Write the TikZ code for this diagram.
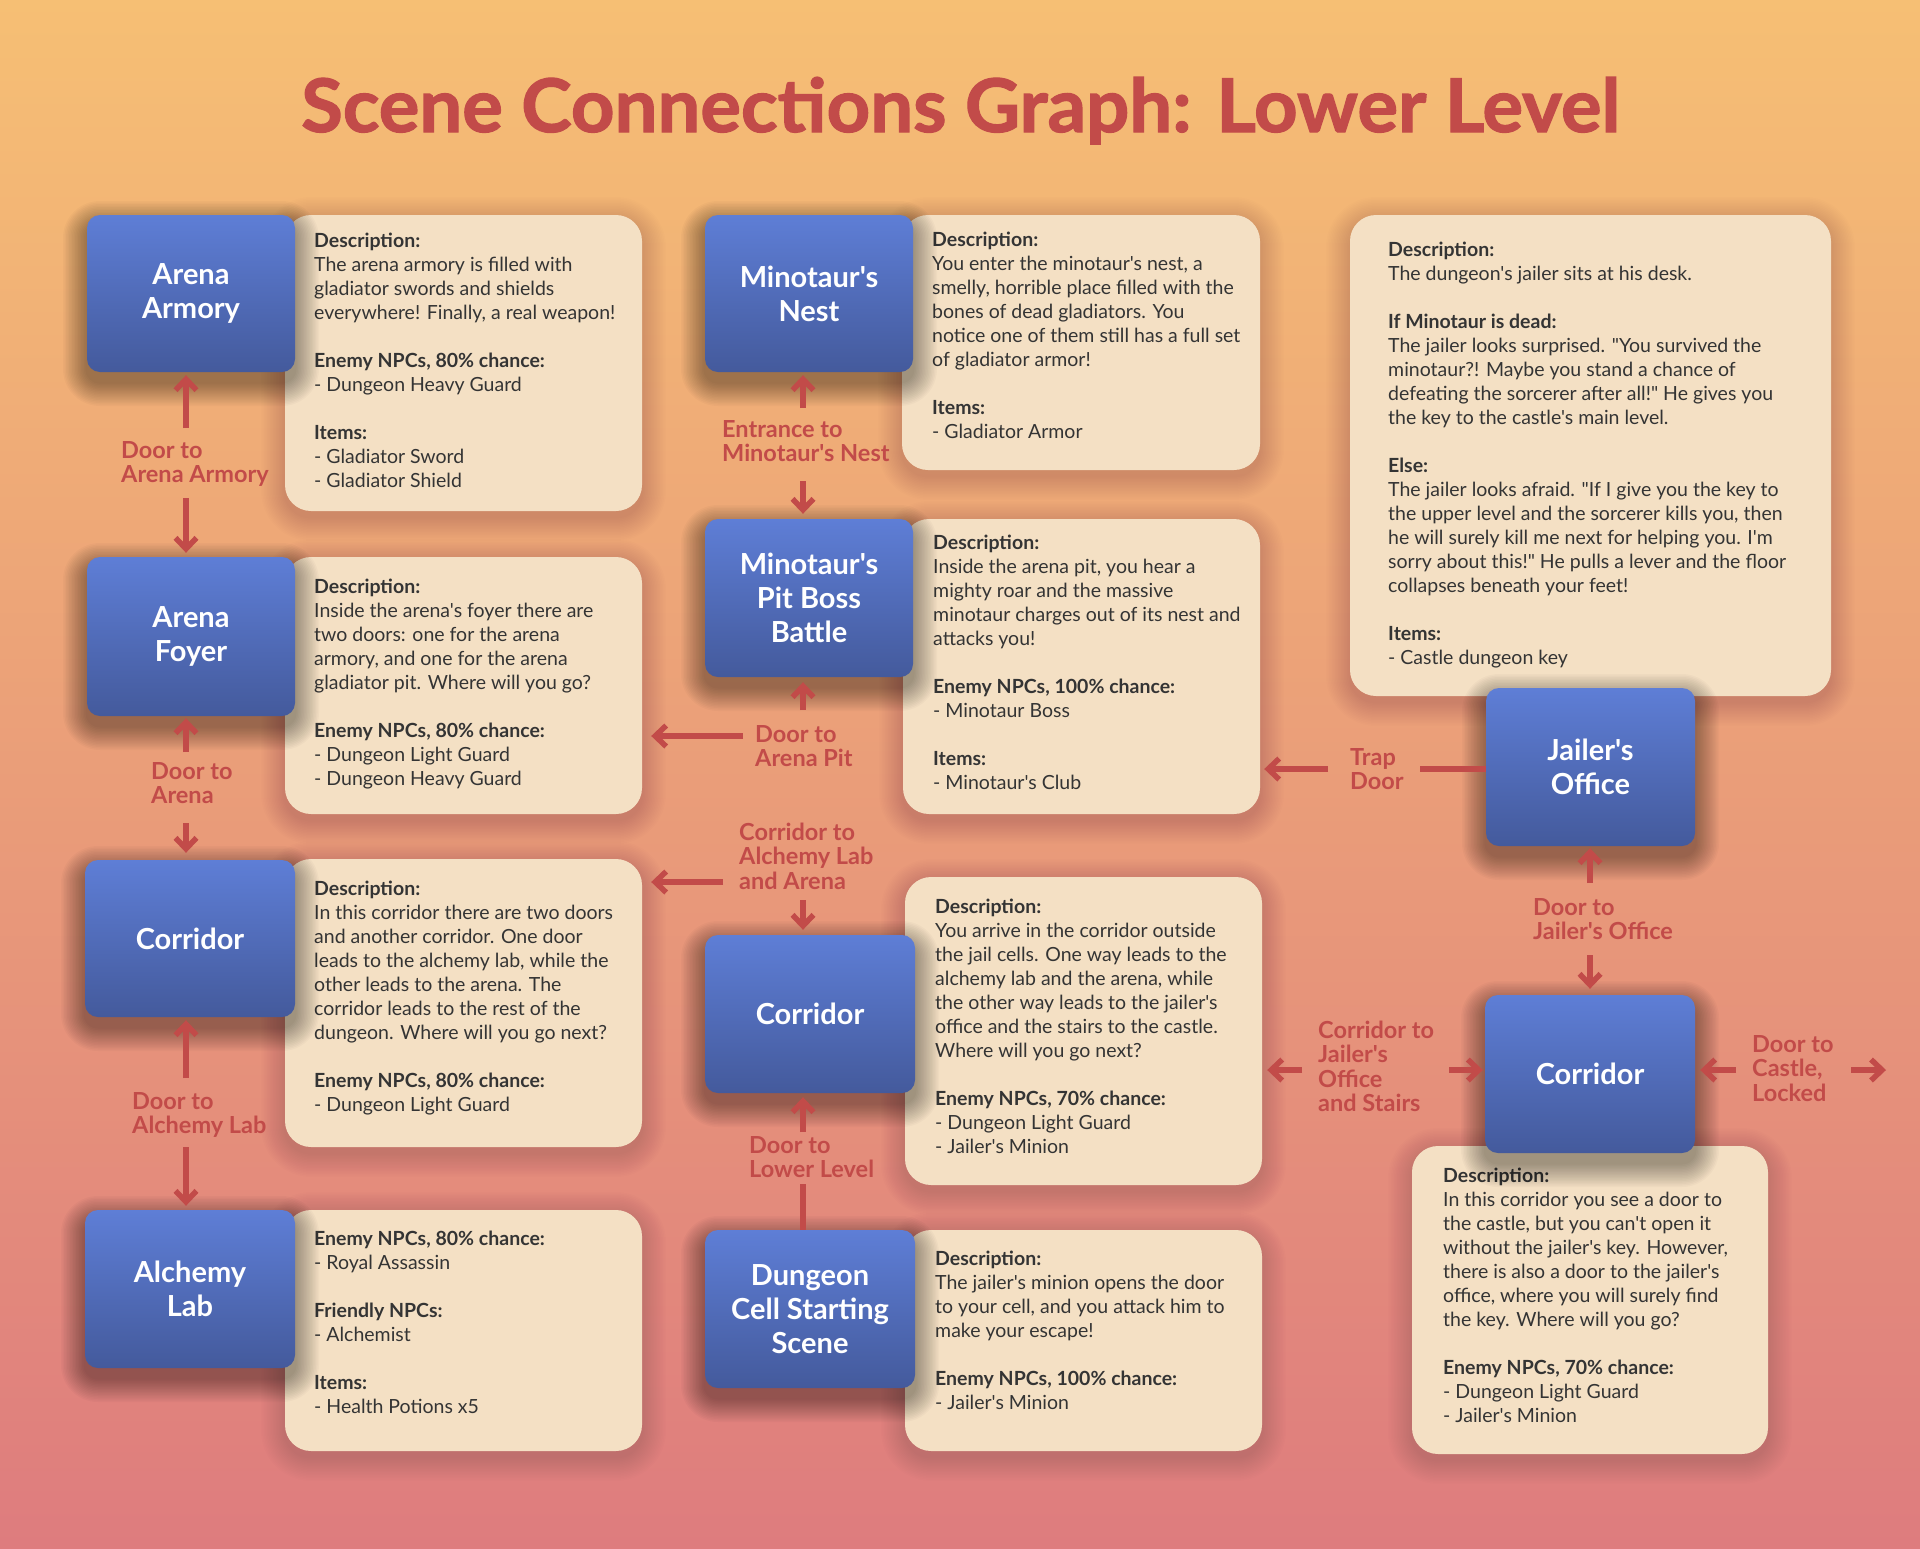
\documentclass[tikz,border=0pt]{standalone}
\usepackage{fontspec}
\usepackage{graphicx}
\setmainfont{Lato}[Ligatures=TeXOff]
\usetikzlibrary{arrows.meta,calc}

\definecolor{bgtop}{RGB}{246,191,116}
\definecolor{bgmid}{RGB}{237,166,118}
\definecolor{bgbot}{RGB}{222,124,126}
\definecolor{blueTop}{RGB}{94,126,214}
\definecolor{blueBot}{RGB}{68,90,156}
\definecolor{cream}{RGB}{244,224,196}
\definecolor{ink}{RGB}{52,52,52}
\definecolor{linkred}{RGB}{194,75,73}

% soft drop shadow built from stacked translucent rounded rectangles:
% x1, y1, x2, y2, corner radius, layer opacity, downward offset
\newcommand{\softshadow}[7]{%
  \foreach \k in {1,...,16}{%
    \pgfmathsetmacro\rr{#5+\k*1.5}%
    \fill[black, fill opacity=#6, rounded corners=\rr pt]
      ({#1-\k*1.5},{#2+#7-\k*1.5}) rectangle ({#3+\k*1.5},{#4+#7+\k*1.5});
  }}
% scene box: name, x1, y1, x2, y2, label
\newcommand{\scenebox}[6]{%
  \softshadow{#2}{#3}{#4}{#5}{13}{0.022}{10}%
  \node[scene, minimum width=#4pt-#2pt, minimum height=#5pt-#3pt] (#1) at ({(#2+#4)/2},{(#3+#5)/2}) {#6};}
% description card: name, x1, y1, x2, y2
\newcommand{\cardbox}[5]{%
  \softshadow{#2}{#3}{#4}{#5}{26}{0.009}{6}%
  \node[card, minimum width=#4pt-#2pt, minimum height=#5pt-#3pt] (#1) at ({(#2+#4)/2},{(#3+#5)/2}) {};}
% card copy: name, x, first baseline, text
\newcommand{\cardcopy}[4]{\node[cardtext] (#1) at (#2,#3) {\begin{minipage}[t]{470pt}\raggedright #4\end{minipage}};}
% connector label: name, x, first baseline, text
\newcommand{\doorlabel}[4]{\node[link] (#1) at (#2,#3) {\begin{minipage}[t]{220pt}\raggedright #4\end{minipage}};}
\newcommand{\brk}{\\[24pt]}

\begin{document}
\begin{tikzpicture}[x=1pt,y=-1pt,
  scene/.style={rectangle, rounded corners=13pt, top color=blueTop, bottom color=blueBot,
    draw=none, text=white, inner sep=0pt, align=center,
    font=\fontsize{29}{34}\selectfont\bfseries},
  card/.style={rectangle, rounded corners=26pt, fill=cream, draw=none, inner sep=0pt},
  cardtext/.style={anchor=base west, inner sep=0pt, text=ink, font=\fontsize{19.5}{24}\selectfont},
  link/.style={anchor=base west, inner sep=0pt, text=linkred, font=\fontsize{23.5}{24.5}\selectfont\bfseries},
  arr/.style={draw=linkred, line width=5.5pt, -{Straight Barb[length=11pt,width=21pt]}},
  seg/.style={draw=linkred, line width=5.5pt},
]
\useasboundingbox (0,0) rectangle (1920,1548);
\fill[top color=bgtop, middle color=bgmid, bottom color=bgbot] (0,0) rectangle (1920,1548);

% title
\node[anchor=base west, inner sep=0pt, text=linkred] (title) at (301,132)
  {\resizebox{1318pt}{55pt}{\bfseries\addfontfeatures{FakeBold=1.6}Scene Connections Graph: Lower Level}};

% ---------- description cards ----------
\cardbox{armoryD}{285}{215}{642}{511}
\cardbox{foyerD}{285}{557}{642}{814}
\cardbox{corrLD}{285}{859}{642}{1147}
\cardbox{alchemyD}{285}{1210}{642}{1451}
\cardbox{nestD}{902}{215}{1260}{470}
\cardbox{pitD}{903}{519}{1260}{814}
\cardbox{corrMD}{905}{877}{1262}{1185}
\cardbox{dungeonD}{905}{1230}{1262}{1451}
\cardbox{jailerD}{1350}{215}{1831}{696}
\cardbox{corrRD}{1412}{1146}{1768}{1454}

\cardcopy{armoryT}{314}{247}{\textbf{Description:}\\
The arena armory is filled with\\
gladiator swords and shields\\
everywhere! Finally, a real weapon!\brk
\textbf{Enemy NPCs, 80\% chance:}\\
- Dungeon Heavy Guard\brk
\textbf{Items:}\\
- Gladiator Sword\\
- Gladiator Shield}

\cardcopy{foyerT}{314}{593}{\textbf{Description:}\\
Inside the arena's foyer there are\\
two doors: one for the arena\\
armory, and one for the arena\\
gladiator pit. Where will you go?\brk
\textbf{Enemy NPCs, 80\% chance:}\\
- Dungeon Light Guard\\
- Dungeon Heavy Guard}

\cardcopy{corrLT}{314}{895}{\textbf{Description:}\\
In this corridor there are two doors\\
and another corridor. One door\\
leads to the alchemy lab, while the\\
other leads to the arena. The\\
corridor leads to the rest of the\\
dungeon. Where will you go next?\brk
\textbf{Enemy NPCs, 80\% chance:}\\
- Dungeon Light Guard}

\cardcopy{alchemyT}{314}{1245}{\textbf{Enemy NPCs, 80\% chance:}\\
- Royal Assassin\brk
\textbf{Friendly NPCs:}\\
- Alchemist\brk
\textbf{Items:}\\
- Health Potions x5}

\cardcopy{nestT}{932}{246}{\textbf{Description:}\\
You enter the minotaur's nest, a\\
smelly, horrible place filled with the\\
bones of dead gladiators. You\\
notice one of them still has a full set\\
of gladiator armor!\brk
\textbf{Items:}\\
- Gladiator Armor}

\cardcopy{pitT}{933}{549}{\textbf{Description:}\\
Inside the arena pit, you hear a\\
mighty roar and the massive\\
minotaur charges out of its nest and\\
attacks you!\brk
\textbf{Enemy NPCs, 100\% chance:}\\
- Minotaur Boss\brk
\textbf{Items:}\\
- Minotaur's Club}

\cardcopy{corrMT}{935}{913}{\textbf{Description:}\\
You arrive in the corridor outside\\
the jail cells. One way leads to the\\
alchemy lab and the arena, while\\
the other way leads to the jailer's\\
office and the stairs to the castle.\\
Where will you go next?\brk
\textbf{Enemy NPCs, 70\% chance:}\\
- Dungeon Light Guard\\
- Jailer's Minion}

\cardcopy{dungeonT}{935}{1265}{\textbf{Description:}\\
The jailer's minion opens the door\\
to your cell, and you attack him to\\
make your escape!\brk
\textbf{Enemy NPCs, 100\% chance:}\\
- Jailer's Minion}

\cardcopy{jailerT}{1388}{256}{\textbf{Description:}\\
The dungeon's jailer sits at his desk.\brk
\textbf{If Minotaur is dead:}\\
The jailer looks surprised. "You survived the\\
minotaur?! Maybe you stand a chance of\\
defeating the sorcerer after all!" He gives you\\
the key to the castle's main level.\brk
\textbf{Else:}\\
The jailer looks afraid. "If I give you the key to\\
the upper level and the sorcerer kills you, then\\
he will surely kill me next for helping you. I'm\\
sorry about this!" He pulls a lever and the floor\\
collapses beneath your feet!\brk
\textbf{Items:}\\
- Castle dungeon key}

\cardcopy{corrRT}{1443}{1182}{\textbf{Description:}\\
In this corridor you see a door to\\
the castle, but you can't open it\\
without the jailer's key. However,\\
there is also a door to the jailer's\\
office, where you will surely find\\
the key. Where will you go?\brk
\textbf{Enemy NPCs, 70\% chance:}\\
- Dungeon Light Guard\\
- Jailer's Minion}

% ---------- scenes ----------
\scenebox{armory}{87}{215}{295}{372}{Arena\\Armory}
\scenebox{foyer}{87}{557}{295}{716}{Arena\\Foyer}
\scenebox{corrL}{85}{860}{295}{1017}{Corridor}
\scenebox{alchemy}{85}{1210}{295}{1368}{Alchemy\\Lab}
\scenebox{nest}{705}{215}{913}{372}{Minotaur's\\Nest}
\scenebox{pit}{705}{519}{913}{677}{Minotaur's\\Pit Boss\\Battle}
\scenebox{corrM}{705}{935}{915}{1093}{Corridor}
\scenebox{dungeon}{705}{1230}{915}{1388}{Dungeon\\Cell Starting\\Scene}
\scenebox{jailer}{1486}{688}{1695}{846}{Jailer's\\Office}
\scenebox{corrR}{1485}{995}{1695}{1153}{Corridor}

% ---------- connector labels ----------
\doorlabel{lArmory}{121}{458}{Door to\\Arena Armory}
\doorlabel{lArena}{151}{779}{Door to\\Arena}
\doorlabel{lAlchemy}{132}{1109}{Door to\\Alchemy Lab}
\doorlabel{lNest}{722}{437}{Entrance to\\Minotaur's Nest}
\doorlabel{lPit}{755}{742}{Door to\\Arena Pit}
\doorlabel{lCorrA}{739}{840}{Corridor to\\Alchemy Lab\\and Arena}
\doorlabel{lLower}{749}{1153}{Door to\\Lower Level}
\doorlabel{lTrap}{1350}{765}{Trap\\Door}
\doorlabel{lJailer}{1533}{915}{Door to\\Jailer's Office}
\doorlabel{lStairs}{1318}{1038}{Corridor to\\Jailer's\\Office\\and Stairs}
\doorlabel{lCastle}{1752}{1052}{Door to\\Castle,\\Locked}

% ---------- connector ends ----------
\coordinate (cArmoryU) at (186,428);
\coordinate (cArmoryD) at (186,498);
\coordinate (cArenaU) at (186,752);
\coordinate (cArenaD) at (186,823);
\coordinate (cAlchU) at (186,1078);
\coordinate (cAlchD) at (186,1147);
\coordinate (cNestU) at (803,408);
\coordinate (cNestD) at (803,481);
\coordinate (cPitU) at (803,710);
\coordinate (cPitL) at (743,736);
\coordinate (cCorrAL) at (723,882);
\coordinate (cCorrAD) at (803,900);
\coordinate (cLowerU) at (803,1132);
\coordinate (cLowerD) at (803,1184);
\coordinate (cTrapL) at (1328,769);
\coordinate (cTrapR) at (1420,769);
\coordinate (cJailU) at (1590,883);
\coordinate (cJailD) at (1590,955);
\coordinate (cStairL) at (1302,1070);
\coordinate (cStairR) at (1449,1070);
\coordinate (cCastleL) at (1736,1070);
\coordinate (cCastleR) at (1851,1070);
\coordinate (castle) at (1886,1070);

% ---------- connectors ----------
\draw[arr, shorten >=3pt] (cArmoryU) -- (cArmoryU |- armory.south);
\draw[arr, shorten >=4pt] (cArmoryD) -- (cArmoryD |- foyer.north);
\draw[arr, shorten >=2pt] (cArenaU) -- (cArenaU |- foyer.south);
\draw[arr, shorten >=7pt] (cArenaD) -- (cArenaD |- corrL.north);
\draw[arr, shorten >=3pt] (cAlchU) -- (cAlchU |- corrL.south);
\draw[arr, shorten >=4pt] (cAlchD) -- (cAlchD |- alchemy.north);

\draw[arr, shorten >=3pt] (cNestU) -- (cNestU |- nest.south);
\draw[arr, shorten >=5pt] (cNestD) -- (cNestD |- pit.north);
\draw[arr, shorten >=5pt] (cPitU) -- (cPitU |- pit.south);
\draw[arr, shorten >=9pt] (cPitL) -- (cPitL -| foyerD.east);
\draw[arr, shorten >=9pt] (cCorrAL) -- (cCorrAL -| corrLD.east);
\draw[arr, shorten >=5pt] (cCorrAD) -- (cCorrAD |- corrM.north);
\draw[arr, shorten >=4pt] (cLowerU) -- (cLowerU |- corrM.south);
\draw[seg] (cLowerD) -- (cLowerD |- dungeon.north);

\draw[arr, shorten >=4pt] (cTrapL) -- (cTrapL -| pitD.east);
\draw[seg] (cTrapR) -- (cTrapR -| jailer.west);
\draw[arr, shorten >=2pt] (cJailU) -- (cJailU |- jailer.south);
\draw[arr, shorten >=6pt] (cJailD) -- (cJailD |- corrR.north);
\draw[arr, shorten >=5pt] (cStairL) -- (cStairL -| corrMD.east);
\draw[arr, shorten >=2pt] (cStairR) -- (cStairR -| corrR.west);
\draw[arr, shorten >=5pt] (cCastleL) -- (cCastleL -| corrR.east);
\draw[arr] (cCastleR) -- (castle);
\end{tikzpicture}
\end{document}
